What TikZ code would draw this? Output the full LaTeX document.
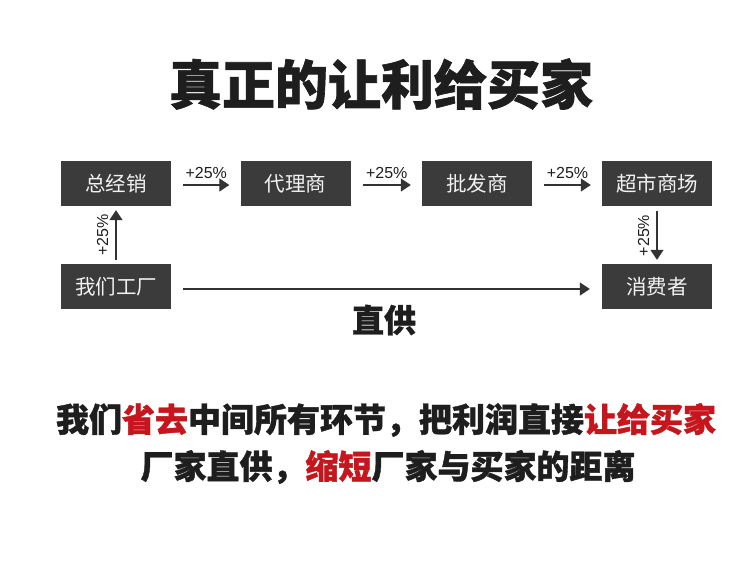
\documentclass[tikz,border=0pt]{standalone}
\usepackage{fontspec}
\usepackage{xcolor}
\usepackage{tikz}
\usetikzlibrary{positioning,arrows.meta,calc}
\newfontfamily\cjk{Noto Sans CJK SC}
\newfontfamily\cjkheavy[BoldFeatures={FakeBold=1.2}]{Noto Sans CJK SC}
\newfontfamily\lat{Liberation Sans}
\definecolor{cBox}{HTML}{3B3B3B}
\definecolor{cInk}{HTML}{1E1E1E}
\definecolor{cRed}{HTML}{C4161C}
\definecolor{cArr}{HTML}{333333}
\definecolor{cTxt}{HTML}{F2F2F2}
\tikzset{
  blk/.style={fill=cBox, text=cTxt, minimum width=110pt, minimum height=45pt,
              inner sep=0pt, font=\cjk\fontsize{20.5}{24}\selectfont},
  ar/.style={-{Triangle[length=10pt,width=13pt]}, cArr, line width=1.3pt},
  tag/.style={font=\lat\fontsize{16}{18}\selectfont, cInk, inner sep=2pt},
  big/.style={font=\cjkheavy\bfseries\fontsize{#1}{#1}\selectfont, cInk}
}

\begin{document}
\begin{tikzpicture}[x=1pt, y=1pt]
\useasboundingbox (0,0) rectangle (750,560);
% title
\node[big=53] (ttl) at (381,476){真正的让利给买家};
% chain of dealers
\node[blk] (zjx) at (116,376.5){总经销};
\node[blk] (dls) at (295.5,376.5){代理商};
\node[blk] (pfs) at (477,376.5){批发商};
\node[blk] (csc) at (657,376.5){超市商场};
\node[blk] (wgc) at (116,273.5){我们工厂};
\node[blk] (xfz) at (657,273.5){消费者};
\draw[ar] ([yshift=4pt]wgc.north) -- node[tag, rotate=90, anchor=south, inner sep=7pt]{+25\%} ([yshift=-4pt]zjx.south);
\draw[ar] ([xshift=12pt,yshift=-1.5pt]zjx.east) -- node[tag, above=4pt]{+25\%} ([xshift=-11pt,yshift=-1.5pt]dls.west);
\draw[ar] ([xshift=12pt,yshift=-1.5pt]dls.east) -- node[tag, above=4pt]{+25\%} ([xshift=-11pt,yshift=-1.5pt]pfs.west);
\draw[ar] ([xshift=12pt,yshift=-1.5pt]pfs.east) -- node[tag, above=4pt]{+25\%} ([xshift=-11pt,yshift=-1.5pt]csc.west);
\draw[ar] ([yshift=-5pt]csc.south) -- node[tag, rotate=90, anchor=south, inner sep=7pt]{+25\%} ([yshift=4pt]xfz.north);
% direct supply
\draw[ar] ([xshift=12pt,yshift=-2.5pt]wgc.east) -- ([xshift=-12pt,yshift=-2.5pt]xfz.west);
\node[big=32] (zg) at (384,240){直供};
% slogan
\node[big=33] (sl1) at (386,140)
  {我们\textcolor{cRed}{省去}中间所有环节，把利润直接\textcolor{cRed}{让给买家}};
\node[big=33] (sl2) at (388,93)
  {厂家直供，\textcolor{cRed}{缩短}厂家与买家的距离};
\end{tikzpicture}
\end{document}
